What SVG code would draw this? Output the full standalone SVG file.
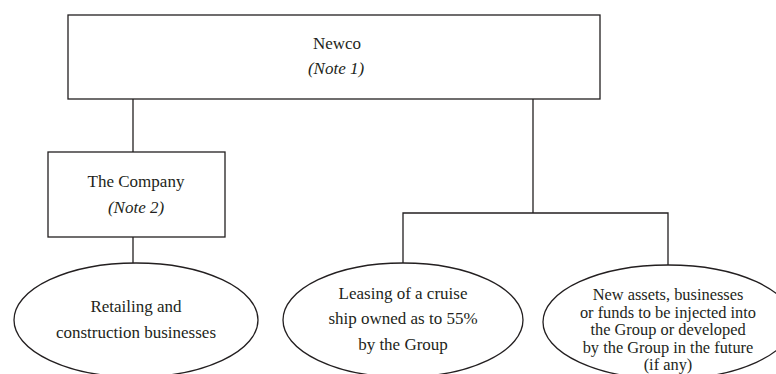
<svg xmlns="http://www.w3.org/2000/svg" width="776" height="374" viewBox="0 0 776 374">
<style>
.box{fill:#fff;stroke:#231f20;stroke-width:1.3}
.ln{fill:none;stroke:#231f20;stroke-width:1.3}
.t{font-family:'Liberation Serif','Times New Roman',Times,serif;font-size:17px;fill:#231f20;text-anchor:middle}
.it{font-style:italic}
.sm{font-size:16.4px}
</style>
<rect width="776" height="374" fill="#fff"/>
<g id="connectors">
<line class="ln" x1="133" y1="99" x2="133" y2="152"/>
<line class="ln" x1="133" y1="237" x2="133" y2="263"/>
<line class="ln" x1="533" y1="99" x2="533" y2="213"/>
<polyline class="ln" points="403,263 403,213 668,213 668,265"/>
</g>
<g id="newco" class="t">
<rect class="box" x="68" y="15" width="532" height="84"/>
<text x="337" y="49">Newco</text>
<text class="it" x="336" y="74">(Note 1)</text>
</g>
<g id="company" class="t">
<rect class="box" x="48" y="152" width="177" height="85"/>
<text x="136" y="187">The Company</text>
<text class="it" x="136" y="213">(Note 2)</text>
</g>
<g id="retailing" class="t">
<ellipse class="box" cx="136" cy="320" rx="122" ry="57"/>
<text x="136" y="312">Retailing and</text>
<text x="136" y="338">construction businesses</text>
</g>
<g id="leasing" class="t">
<ellipse class="box" cx="403" cy="320" rx="120" ry="57"/>
<text x="403" y="299">Leasing of a cruise</text>
<text x="403" y="324">ship owned as to 55%</text>
<text x="403" y="350">by the Group</text>
</g>
<g id="newassets" class="t sm">
<ellipse class="box" cx="668" cy="322" rx="125" ry="57"/>
<text x="668" y="300">New assets, businesses</text>
<text x="668" y="317.5">or funds to be injected into</text>
<text x="668" y="335">the Group or developed</text>
<text x="668" y="352.5">by the Group in the future</text>
<text x="668" y="370">(if any)</text>
</g>
</svg>
